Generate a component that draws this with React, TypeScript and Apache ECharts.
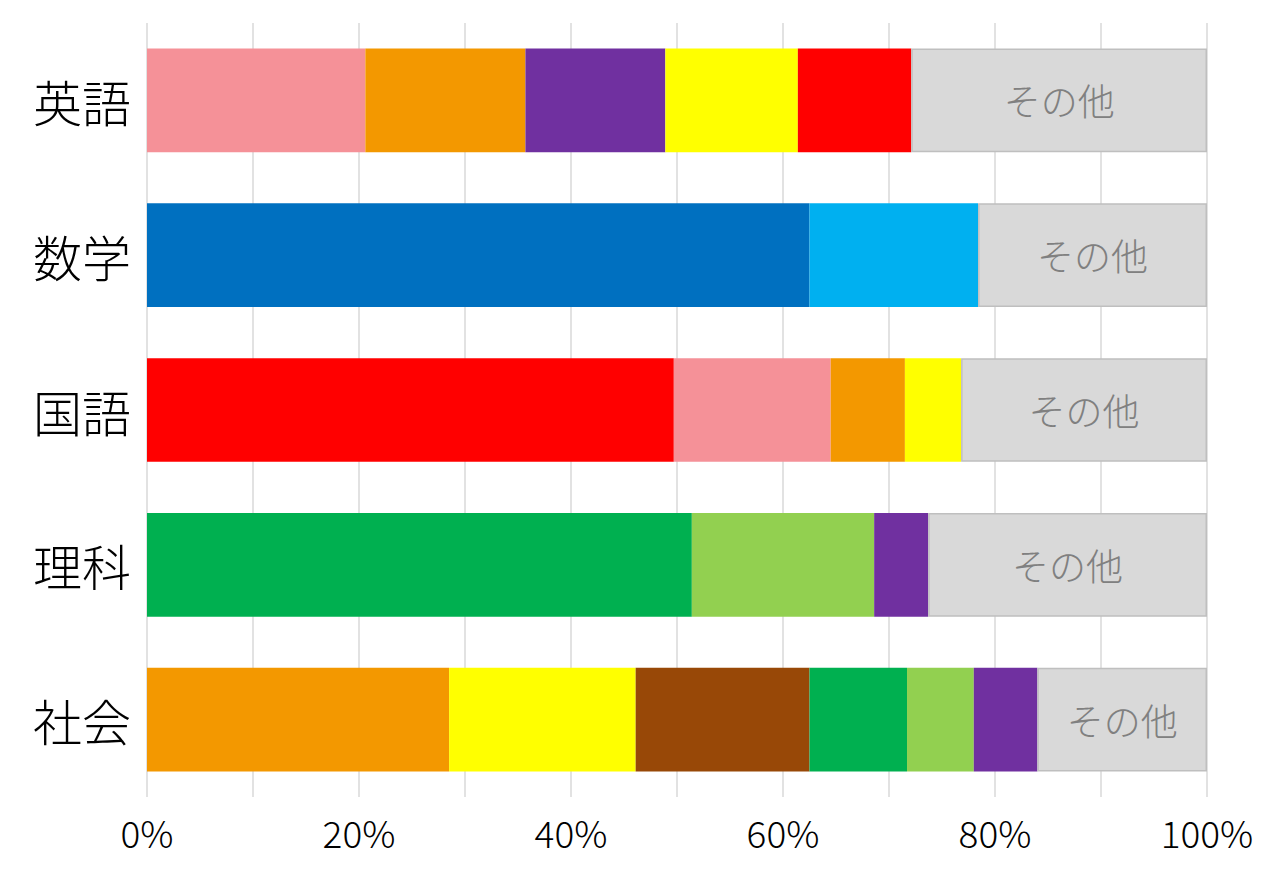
import React, { useEffect, useRef } from 'react'
import * as echarts from 'echarts'

// 科目（上から順）
const categories = ['英語', '数学', '国語', '理科', '社会']

// 各科目の内訳（%）と色キー
const eigoValues = [20.6, 15.1, 13.2, 12.5, 10.7]
const eigoKeys = ['pink', 'orange', 'purple', 'yellow', 'red']
const sugakuValues = [62.5, 15.9]
const sugakuKeys = ['blue', 'lightblue']
const kokugoValues = [49.7, 14.8, 7.0, 5.3]
const kokugoKeys = ['red', 'pink', 'orange', 'yellow']
const rikaValues = [51.4, 17.2, 5.1]
const rikaKeys = ['green', 'lightgreen', 'purple']
const shakaiValues = [28.5, 17.6, 16.4, 9.2, 6.3, 6.0]
const shakaiKeys = ['orange', 'yellow', 'brown', 'green', 'lightgreen', 'purple']

// その他
const otherValues = [27.9, 21.6, 23.2, 26.3, 16.0]
const otherLabel = 'その他'

// x軸の目盛り
const xTicks = [0, 20, 40, 60, 80, 100]

const palette: Record<string, string> = {
    pink: '#F59198',
    orange: '#F39800',
    purple: '#7030A0',
    yellow: '#FFFF00',
    red: '#FF0000',
    blue: '#0070C0',
    lightblue: '#00B0F0',
    green: '#00B050',
    lightgreen: '#92D050',
    brown: '#984807',
}

const FONT = '"Noto Sans CJK JP", "Noto Sans", sans-serif'

const App: React.FC = () => {
    const chartRef = useRef<HTMLDivElement | null>(null)

    useEffect(() => {
        document.body.style.margin = '0'
        if (!chartRef.current) return
        const chart = echarts.init(chartRef.current, null, { renderer: 'svg' })

        const valueLists = [eigoValues, sugakuValues, kokugoValues, rikaValues, shakaiValues]
        const keyLists = [eigoKeys, sugakuKeys, kokugoKeys, rikaKeys, shakaiKeys]
        const maxSegs = Math.max(...valueLists.map((v) => v.length))

        const segmentSeries: any[] = []
        for (let i = 0; i < maxSegs; i++) {
            segmentSeries.push({
                type: 'bar',
                stack: 'total',
                barCategoryGap: '33%',
                data: categories.map((_, ci) => {
                    const v = valueLists[ci][i]
                    if (v === undefined) return 0
                    return { value: v, itemStyle: { color: palette[keyLists[ci][i]] } }
                }),
            })
        }

        const option = {
            animation: false,
            grid: { left: 147, right: 75, top: 23, bottom: 83, containLabel: false },
            xAxis: {
                type: 'value',
                min: 0,
                max: 100,
                interval: 10,
                axisLine: { show: false },
                axisTick: { show: false },
                splitLine: { lineStyle: { color: '#d9d9d9', width: 1.5 } },
                axisLabel: {
                    margin: 16,
                    fontFamily: FONT,
                    fontWeight: 300,
                    fontSize: 37,
                    color: '#000',
                    formatter: (v: number) => (xTicks.includes(v) ? `${v}%` : ''),
                },
            },
            yAxis: {
                type: 'category',
                inverse: true,
                data: categories,
                axisLine: { show: false },
                axisTick: { show: false },
                axisLabel: {
                    margin: 16,
                    fontFamily: FONT,
                    fontWeight: 300,
                    fontSize: 49,
                    color: '#000',
                },
            },
            series: [
                ...segmentSeries,
                {
                    type: 'bar',
                    stack: 'total',
                    data: otherValues,
                    itemStyle: { color: '#d9d9d9', borderColor: '#bfbfbf', borderWidth: 1.5 },
                    label: {
                        show: true,
                        position: 'inside',
                        formatter: otherLabel,
                        fontFamily: FONT,
                        fontWeight: 300,
                        fontSize: 37,
                        color: '#808080',
                    },
                },
            ],
        }

        chart.setOption(option as any)
        return () => {
            chart.dispose()
        }
    }, [])

    return <div ref={chartRef} style={{ width: 1282, height: 880 }} />
}

export default App
